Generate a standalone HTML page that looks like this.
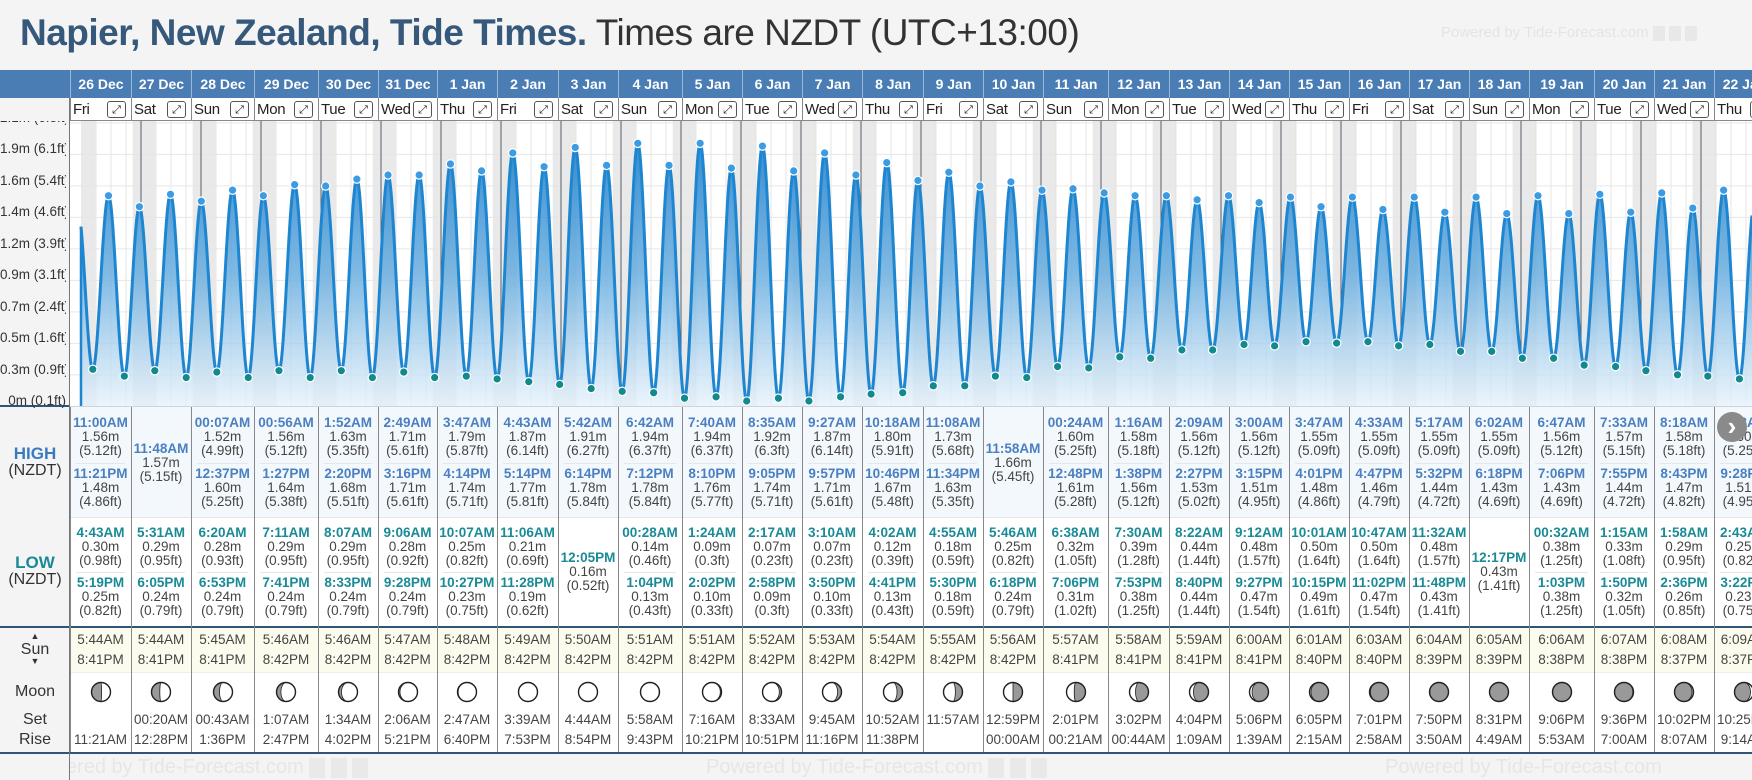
<!DOCTYPE html>
<html><head><meta charset="utf-8">
<style>
body{margin:0;width:1752px;height:780px;background:#f4f4f4;font-family:"Liberation Sans","DejaVu Sans",sans-serif;overflow:hidden;position:relative}
.a{position:absolute}
.c{position:absolute;text-align:center;white-space:nowrap;line-height:14px;font-size:13.5px;color:#444}
.tH{color:#4a7fc0;font-weight:bold;font-size:13.5px}
.tL{color:#1a8a96;font-weight:bold;font-size:13.5px}
.lab{position:absolute;left:0;width:70px;text-align:center;color:#333;font-size:16px;line-height:18px}
</style></head>
<body>
<div class="a" style="left:20px;top:10px;font-size:37px;line-height:46px;white-space:nowrap;letter-spacing:-0.5px"><b style="color:#36597b">Napier, New Zealand, Tide Times.</b> <span style="color:#333">Times are NZDT (UTC+13:00)</span></div>
<div class="a" style="left:1441px;top:24px;font-size:15px;color:#e4e4e4;white-space:nowrap">Powered by Tide-Forecast.com <span style="display:inline-block;width:12px;height:15px;background:#e8e8e8;vertical-align:middle"></span> <span style="display:inline-block;width:12px;height:15px;background:#e8e8e8;vertical-align:middle"></span> <span style="display:inline-block;width:12px;height:15px;background:#e8e8e8;vertical-align:middle"></span></div>

<div class="a" style="left:0;top:70px;width:1752px;height:28px;background:#4a7db3"></div>
<div class="a" style="left:70px;top:98px;width:1682px;height:23px;background:#fff;border-bottom:1px solid #888;box-sizing:border-box"></div>
<div class="a" style="left:70px;top:407px;width:1682px;height:110px;background:#f3f8fd"></div>
<div class="a" style="left:70px;top:517px;width:1682px;height:109px;background:#fff;border-top:1px solid #e4e8ec"></div>
<div class="a" style="left:70px;top:628px;width:1682px;height:44px;background:#fcfcee"></div>
<div class="a" style="left:70px;top:672px;width:1682px;height:80px;background:#fff;border-top:1px solid #eee"></div>
<div class="a" style="left:0;top:626px;width:1752px;height:2px;background:#2e5577"></div>
<div class="a" style="left:0;top:752px;width:1752px;height:2px;background:#2e5577"></div>
<div class="a" style="left:0;top:405px;width:1752px;height:2px;background:#2e5577"></div>

<svg class="a" id="chart" style="left:0;top:121px" width="1752" height="286" viewBox="0 121 1752 286"></svg>

<div id="tbl"></div>

<div class="lab" style="top:445px;color:#3b7ac0;font-weight:bold;font-size:17px">HIGH</div>
<div class="lab" style="top:462px">(NZDT)</div>
<div class="lab" style="top:554px;color:#1a8a96;font-weight:bold;font-size:17px">LOW</div>
<div class="lab" style="top:571px">(NZDT)</div>
<div class="lab" style="top:630px;font-size:9px;line-height:12px">▲</div>
<div class="lab" style="top:641px">Sun</div>
<div class="lab" style="top:655px;font-size:9px;line-height:12px">▼</div>
<div class="lab" style="top:683px">Moon</div>
<div class="lab" style="top:711px">Set</div>
<div class="lab" style="top:731px">Rise</div>
<div class="a" style="left:69px;top:98px;width:1px;height:682px;background:#777"></div>

<div class="a" style="left:70px;top:754px;width:1682px;height:26px;overflow:hidden">
 <div class="a" style="left:-43px;top:2px;font-size:20px;color:#e6e6e6;white-space:nowrap">Powered by Tide-Forecast.com <span style="display:inline-block;width:16px;height:20px;background:#e9e9e9;vertical-align:middle"></span> <span style="display:inline-block;width:16px;height:20px;background:#e9e9e9;vertical-align:middle"></span> <span style="display:inline-block;width:16px;height:20px;background:#e9e9e9;vertical-align:middle"></span></div>
 <div class="a" style="left:636px;top:2px;font-size:20px;color:#e6e6e6;white-space:nowrap">Powered by Tide-Forecast.com <span style="display:inline-block;width:16px;height:20px;background:#e9e9e9;vertical-align:middle"></span> <span style="display:inline-block;width:16px;height:20px;background:#e9e9e9;vertical-align:middle"></span> <span style="display:inline-block;width:16px;height:20px;background:#e9e9e9;vertical-align:middle"></span></div>
 <div class="a" style="left:1315px;top:2px;font-size:20px;color:#e6e6e6;white-space:nowrap">Powered by Tide-Forecast.com</div>
</div>
<div class="a" style="left:1717px;top:412px;width:30px;height:30px;border-radius:50%;background:#8a8a8a;color:#fff;font-size:26px;line-height:28px;text-align:center;font-weight:bold">›</div>

<script>
const days=['26 Dec','27 Dec','28 Dec','29 Dec','30 Dec','31 Dec','1 Jan','2 Jan','3 Jan','4 Jan','5 Jan','6 Jan','7 Jan','8 Jan','9 Jan','10 Jan','11 Jan','12 Jan','13 Jan','14 Jan','15 Jan','16 Jan','17 Jan','18 Jan','19 Jan','20 Jan','21 Jan','22 Jan'];
const weekdays=['Fri','Sat','Sun','Mon','Tue','Wed','Thu','Fri','Sat','Sun','Mon','Tue','Wed','Thu','Fri','Sat','Sun','Mon','Tue','Wed','Thu','Fri','Sat','Sun','Mon','Tue','Wed','Thu'];
const prevHigh=['10:40PM',1.47];
const highs=[
[['11:00AM',1.56,'5.12'],['11:21PM',1.48,'4.86']],
[['11:48AM',1.57,'5.15']],
[['00:07AM',1.52,'4.99'],['12:37PM',1.60,'5.25']],
[['00:56AM',1.56,'5.12'],['1:27PM',1.64,'5.38']],
[['1:52AM',1.63,'5.35'],['2:20PM',1.68,'5.51']],
[['2:49AM',1.71,'5.61'],['3:16PM',1.71,'5.61']],
[['3:47AM',1.79,'5.87'],['4:14PM',1.74,'5.71']],
[['4:43AM',1.87,'6.14'],['5:14PM',1.77,'5.81']],
[['5:42AM',1.91,'6.27'],['6:14PM',1.78,'5.84']],
[['6:42AM',1.94,'6.37'],['7:12PM',1.78,'5.84']],
[['7:40AM',1.94,'6.37'],['8:10PM',1.76,'5.77']],
[['8:35AM',1.92,'6.3'],['9:05PM',1.74,'5.71']],
[['9:27AM',1.87,'6.14'],['9:57PM',1.71,'5.61']],
[['10:18AM',1.80,'5.91'],['10:46PM',1.67,'5.48']],
[['11:08AM',1.73,'5.68'],['11:34PM',1.63,'5.35']],
[['11:58AM',1.66,'5.45']],
[['00:24AM',1.60,'5.25'],['12:48PM',1.61,'5.28']],
[['1:16AM',1.58,'5.18'],['1:38PM',1.56,'5.12']],
[['2:09AM',1.56,'5.12'],['2:27PM',1.53,'5.02']],
[['3:00AM',1.56,'5.12'],['3:15PM',1.51,'4.95']],
[['3:47AM',1.55,'5.09'],['4:01PM',1.48,'4.86']],
[['4:33AM',1.55,'5.09'],['4:47PM',1.46,'4.79']],
[['5:17AM',1.55,'5.09'],['5:32PM',1.44,'4.72']],
[['6:02AM',1.55,'5.09'],['6:18PM',1.43,'4.69']],
[['6:47AM',1.56,'5.12'],['7:06PM',1.43,'4.69']],
[['7:33AM',1.57,'5.15'],['7:55PM',1.44,'4.72']],
[['8:18AM',1.58,'5.18'],['8:43PM',1.47,'4.82']],
[['9:03AM',1.60,'5.25'],['9:28PM',1.51,'4.95']]];
const lows=[
[['4:43AM',0.30,'0.98'],['5:19PM',0.25,'0.82']],
[['5:31AM',0.29,'0.95'],['6:05PM',0.24,'0.79']],
[['6:20AM',0.28,'0.93'],['6:53PM',0.24,'0.79']],
[['7:11AM',0.29,'0.95'],['7:41PM',0.24,'0.79']],
[['8:07AM',0.29,'0.95'],['8:33PM',0.24,'0.79']],
[['9:06AM',0.28,'0.92'],['9:28PM',0.24,'0.79']],
[['10:07AM',0.25,'0.82'],['10:27PM',0.23,'0.75']],
[['11:06AM',0.21,'0.69'],['11:28PM',0.19,'0.62']],
[['12:05PM',0.16,'0.52']],
[['00:28AM',0.14,'0.46'],['1:04PM',0.13,'0.43']],
[['1:24AM',0.09,'0.3'],['2:02PM',0.10,'0.33']],
[['2:17AM',0.07,'0.23'],['2:58PM',0.09,'0.3']],
[['3:10AM',0.07,'0.23'],['3:50PM',0.10,'0.33']],
[['4:02AM',0.12,'0.39'],['4:41PM',0.13,'0.43']],
[['4:55AM',0.18,'0.59'],['5:30PM',0.18,'0.59']],
[['5:46AM',0.25,'0.82'],['6:18PM',0.24,'0.79']],
[['6:38AM',0.32,'1.05'],['7:06PM',0.31,'1.02']],
[['7:30AM',0.39,'1.28'],['7:53PM',0.38,'1.25']],
[['8:22AM',0.44,'1.44'],['8:40PM',0.44,'1.44']],
[['9:12AM',0.48,'1.57'],['9:27PM',0.47,'1.54']],
[['10:01AM',0.50,'1.64'],['10:15PM',0.49,'1.61']],
[['10:47AM',0.50,'1.64'],['11:02PM',0.47,'1.54']],
[['11:32AM',0.48,'1.57'],['11:48PM',0.43,'1.41']],
[['12:17PM',0.43,'1.41']],
[['00:32AM',0.38,'1.25'],['1:03PM',0.38,'1.25']],
[['1:15AM',0.33,'1.08'],['1:50PM',0.32,'1.05']],
[['1:58AM',0.29,'0.95'],['2:36PM',0.26,'0.85']],
[['2:43AM',0.25,'0.82'],['3:22PM',0.23,'0.75']]];
const sunrise=['5:44AM','5:44AM','5:45AM','5:46AM','5:46AM','5:47AM','5:48AM','5:49AM','5:50AM','5:51AM','5:51AM','5:52AM','5:53AM','5:54AM','5:55AM','5:56AM','5:57AM','5:58AM','5:59AM','6:00AM','6:01AM','6:03AM','6:04AM','6:05AM','6:06AM','6:07AM','6:08AM','6:09AM'];
const sunset=['8:41PM','8:41PM','8:41PM','8:42PM','8:42PM','8:42PM','8:42PM','8:42PM','8:42PM','8:42PM','8:42PM','8:42PM','8:42PM','8:42PM','8:42PM','8:42PM','8:41PM','8:41PM','8:41PM','8:41PM','8:40PM','8:40PM','8:39PM','8:39PM','8:38PM','8:38PM','8:37PM','8:37PM'];
const moonSet=['','00:20AM','00:43AM','1:07AM','1:34AM','2:06AM','2:47AM','3:39AM','4:44AM','5:58AM','7:16AM','8:33AM','9:45AM','10:52AM','11:57AM','12:59PM','2:01PM','3:02PM','4:04PM','5:06PM','6:05PM','7:01PM','7:50PM','8:31PM','9:06PM','9:36PM','10:02PM','10:25PM'];
const moonRise=['11:21AM','12:28PM','1:36PM','2:47PM','4:02PM','5:21PM','6:40PM','7:53PM','8:54PM','9:43PM','10:21PM','10:51PM','11:16PM','11:38PM','','00:00AM','00:21AM','00:44AM','1:09AM','1:39AM','2:15AM','2:58AM','3:50AM','4:49AM','5:53AM','7:00AM','8:07AM','9:14AM'];
const moonPhase=[0.24,0.27,0.31,0.34,0.37,0.41,0.44,0.48,0.51,0.54,0.58,0.61,0.65,0.68,0.71,0.75,0.78,0.81,0.85,0.88,0.91,0.93,0.96,0.99,0.02,0.06,0.09,0.13];
const yTickFt=[0.1,0.85,1.6,2.35,3.1,3.85,4.6,5.35,6.1,6.85];
const yTickLabels=['0m (0.1ft)','0.3m (0.9ft)','0.5m (1.6ft)','0.7m (2.4ft)','0.9m (3.1ft)','1.2m (3.9ft)','1.4m (4.6ft)','1.6m (5.4ft)','1.9m (6.1ft)','2.1m (6.8ft)'];

const colX=[70,131,191,254,318,378,437,497,558,618,682,742,802,862,923,983,1043,1108,1169,1229,1289,1349,1409,1469,1529,1594,1654,1714,1774];
const X0=81,PXH=2.5,TOP=121,BOT=406;
function hrs(s){const m=s.match(/(\d+):(\d+)(AM|PM)/);let h=(+m[1])%12;if(m[3]==='PM')h+=12;return h+(+m[2])/60;}
function xOf(t){return X0+t*PXH;}
function yOf(h){return 406.5-(h-0.03)*137.8;}
const NS='http://www.w3.org/2000/svg';
const svg=document.getElementById('chart');
function sv(tag,attrs,parent){const e=document.createElementNS(NS,tag);for(const k in attrs)e.setAttribute(k,attrs[k]);(parent||svg).appendChild(e);return e;}

let bg=sv('rect',{x:70,y:TOP,width:1682,height:BOT-TOP,fill:'#fff'});


const defs=sv('defs',{});
const grad=sv('linearGradient',{id:'g',x1:0,y1:0,x2:0,y2:1},defs);
sv('stop',{offset:'0','stop-color':'#2a86cf','stop-opacity':'0.95'},grad);
sv('stop',{offset:'0.5','stop-color':'#6aaedf','stop-opacity':'0.85'},grad);
sv('stop',{offset:'1','stop-color':'#e4f1fb','stop-opacity':'0.75'},grad);
const TMAX=(1752-X0)/PXH;
const nights=[[0,hrs(sunrise[0])]];
for(let i=0;i<days.length;i++){const s=i*24+hrs(sunset[i]);const e=i+1<days.length?(i+1)*24+hrs(sunrise[i+1]):TMAX;nights.push([s,e]);}
nights.forEach(n=>{
 const r=sv('rect',{x:xOf(n[0]),y:TOP,width:Math.max(0,xOf(Math.min(n[1],TMAX))-xOf(n[0])),height:BOT-TOP,fill:'#e9e9e9'});
 
 
});
for(let t=6;t<TMAX;t+=6){
 if(t%24===0)continue;
 const l=sv('line',{x1:xOf(t),x2:xOf(t),y1:TOP,y2:BOT,stroke:'#dcdcdc','stroke-width':1,'stroke-opacity':0.7});
 
 
}
yTickFt.forEach((ft,i)=>{
 const y=yOf(ft*0.3048);
 const l=sv('line',{x1:70,x2:1752,y1:y,y2:y,stroke:'#e6e6e6','stroke-width':1});
 
 
 const tx=document.createElement('div');
 
 
 tx.className='a';
 tx.style.cssText=`left:0;width:66px;text-align:right;top:${y-13}px;font-size:13.5px;line-height:16px;color:#333;white-space:nowrap;clip-path:inset(${Math.max(0,TOP-(y-13))}px 0 0 0)`;
 tx.textContent=yTickLabels[i];
 document.body.appendChild(tx);
});
const ev=[{t:-24+hrs(prevHigh[0]),h:prevHigh[1],k:'H'}];
highs.forEach((d,i)=>d.forEach(e=>ev.push({t:i*24+hrs(e[0]),h:e[1],k:'H'})));
lows.forEach((d,i)=>d.forEach(e=>ev.push({t:i*24+hrs(e[0]),h:e[1],k:'L'})));
ev.sort((a,b)=>a.t-b.t);
function hAt(t){
 for(let i=0;i<ev.length-1;i++){const a=ev[i],b=ev[i+1];if(t>=a.t&&t<=b.t){const f=(t-a.t)/(b.t-a.t);return a.h+(b.h-a.h)*(1-Math.cos(Math.PI*f))/2;}}
 return ev[ev.length-1].h;
}
let pts=[];
for(let t=0;t<=TMAX;t+=0.2)pts.push([xOf(t),yOf(hAt(t))]);
pts.push([xOf(TMAX),yOf(hAt(TMAX))]);
const dStr=pts.map((p,i)=>(i?'L':'M')+p[0].toFixed(1)+' '+p[1].toFixed(1)).join('');
let area=sv('path',{d:dStr+`L${xOf(TMAX)} ${BOT}L${X0} ${BOT}Z`,fill:'url(#g)'});


for(let k=1;k<days.length;k++){
 const t=k*24;if(t>TMAX)break;
 const l=sv('line',{x1:xOf(t),x2:xOf(t),y1:TOP,y2:yOf(hAt(t)),stroke:'#55606b','stroke-width':1});
 
 
}
let line=sv('path',{d:dStr,fill:'none',stroke:'#1e86d0','stroke-width':3,'stroke-linejoin':'round'});


let edge=sv('line',{x1:X0,x2:X0,y1:yOf(hAt(0)),y2:BOT,stroke:'#1e86d0','stroke-width':2.5});


ev.forEach(e=>{
 if(e.t<0||e.t>TMAX)return;
 const c=sv('circle',{cx:xOf(e.t),cy:yOf(e.h),r:4.2,fill:e.k==='H'?'#3b9be3':'#12898c',stroke:'#fff','stroke-width':1.2});
 
 
});

const tbl=document.getElementById('tbl');
function div(css,cls,txt){const d=document.createElement('div');d.className=cls||'a';d.style.cssText=css;if(txt!==undefined)d.textContent=txt;tbl.appendChild(d);return d;}
function entry(x,w,top,e,cls,kind){
 let d=div(`left:${x}px;width:${w}px;top:${top}px`,'c '+cls,e[0]);
 
 
 d=div(`left:${x}px;width:${w}px;top:${top+14}px`,'c',e[1].toFixed(2)+'m');
 
 
 d=div(`left:${x}px;width:${w}px;top:${top+28}px`,'c','('+e[2]+'ft)');
 
 
}
for(let i=0;i<days.length;i++){
 const x=colX[i],w=colX[i+1]-colX[i];
 let d=div(`left:${x}px;width:${w}px;top:70px;height:28px;line-height:28px;text-align:center;color:#fff;font-weight:bold;font-size:14px;white-space:nowrap;border-left:1px solid #9bb8d6;box-sizing:border-box`,'a',days[i]);
 
 
 d=div(`left:${x}px;width:${w}px;top:98px;height:23px;border-left:1px solid #888;box-sizing:border-box`);
 
 
 d=div(`left:${x+3}px;top:99px;font-size:15px;line-height:21px;color:#222;letter-spacing:-0.3px`,'a',weekdays[i]);
 
 
 d=div(`left:${x+w-24}px;top:101px;width:17px;height:15px;border:1px solid #555;border-radius:3px;font-size:11px;line-height:15px;text-align:center;color:#222;background:#fff;font-family:'DejaVu Sans',sans-serif`,'a','⤢');
 
 
 d=div(`left:${x}px;top:407px;width:1px;height:345px;background:#888`);
 
 
 const hi=highs[i],lo=lows[i];
 if(hi.length===2){entry(x,w,416,hi[0],'tH','high-tide');entry(x,w,466.6,hi[1],'tH','high-tide');
  d=div(`left:${x+6}px;width:${w-12}px;top:463px;height:1px;background:#e1e8ef`);
  
  
 } else entry(x,w,441.7,hi[0],'tH','high-tide');
 if(lo.length===2){entry(x,w,525.7,lo[0],'tL','low-tide');entry(x,w,575.7,lo[1],'tL','low-tide');
  d=div(`left:${x+6}px;width:${w-12}px;top:572px;height:1px;background:#e6e6e6`);
  
  
 } else entry(x,w,550.7,lo[0],'tL','low-tide');
 d=div(`left:${x}px;width:${w}px;top:633px`,'c',sunrise[i]);
 
 
 d=div(`left:${x}px;width:${w}px;top:653px`,'c',sunset[i]);
 
 
 d=div(`left:${x}px;width:${w}px;top:713px`,'c',moonSet[i]);
 
 
 d=div(`left:${x}px;width:${w}px;top:733px`,'c',moonRise[i]);
 
 
 const p=moonPhase[i],r=9.5,cx=x+w/2,cy=691.7;
 const ms=document.createElementNS(NS,'svg');
 
 
 ms.setAttribute('width',24);ms.setAttribute('height',24);
 ms.setAttribute('style',`position:absolute;left:${cx-12}px;top:${cy-12}px`);
 const c=12;
 sv('circle',{cx:c,cy:c,r:r,fill:'#999'},ms);
 const rx=Math.abs(Math.cos(2*Math.PI*p))*r;
 let dd;
 if(p<0.5){const sw=p<0.25?0:1;dd=`M${c} ${c-r}A${r} ${r} 0 0 1 ${c} ${c+r}A${rx} ${r} 0 0 ${sw} ${c} ${c-r}Z`;}
 else{const sw=p<0.75?0:1;dd=`M${c} ${c-r}A${r} ${r} 0 0 0 ${c} ${c+r}A${rx} ${r} 0 0 ${sw} ${c} ${c-r}Z`;}
 sv('path',{d:dd,fill:'#fff',stroke:'#222','stroke-width':0.8},ms);
 sv('circle',{cx:c,cy:c,r:r,fill:'none',stroke:'#222','stroke-width':1.4},ms);
 tbl.appendChild(ms);
}
</script>
</body></html>
